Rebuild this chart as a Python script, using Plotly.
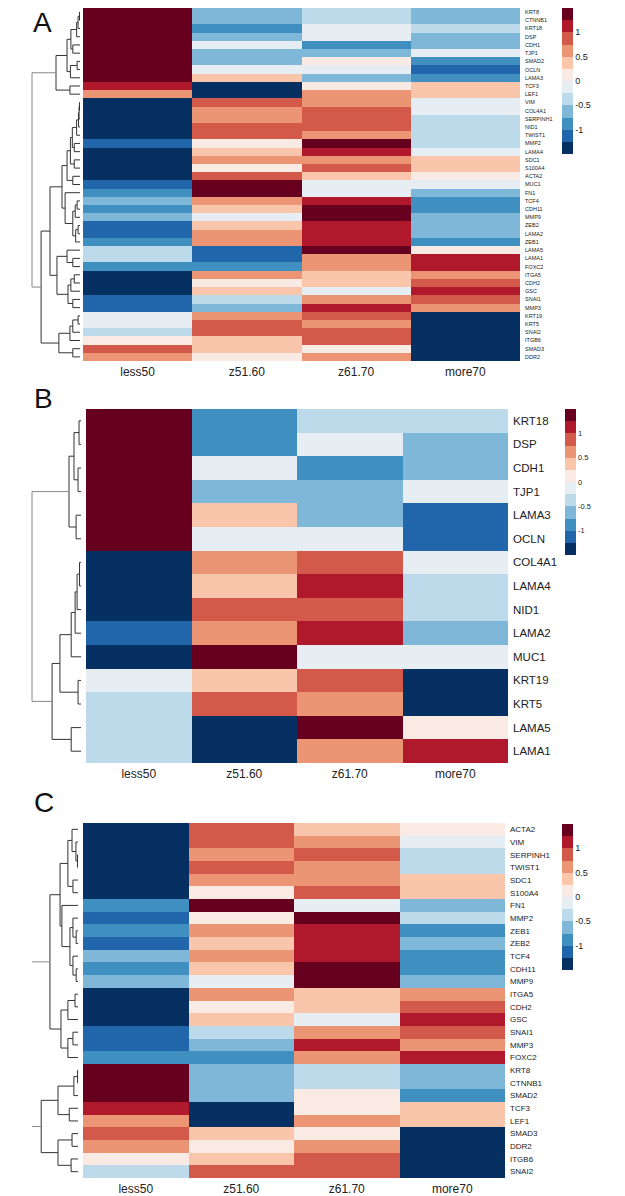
import plotly.graph_objects as go

cols = ['less50', 'z51.60', 'z61.70', 'more70']

# ---- panel A ----
genes_a = ['KRT8', 'CTNNB1', 'KRT18', 'DSP', 'CDH1', 'TJP1', 'SMAD2', 'OCLN', 'LAMA3', 'TCF3', 'LEF1',
           'VIM', 'COL4A1', 'SERPINH1', 'NID1', 'TWIST1', 'MMP2', 'LAMA4', 'SDC1', 'S100A4', 'ACTA2',
           'MUC1', 'FN1', 'TCF4', 'CDH11', 'MMP9', 'ZEB2', 'LAMA2', 'ZEB1', 'LAMA5', 'LAMA1', 'FOXC2',
           'ITGA5', 'CDH2', 'GSC', 'SNAI1', 'MMP3', 'KRT19', 'KRT5', 'SNAI2', 'ITGB6', 'SMAD3', 'DDR2']
a_less50 = [1.4, 1.4, 1.4, 1.4, 1.4, 1.4, 1.4, 1.4, 1.4, 1.1, 0.6,
            -1.4, -1.4, -1.4, -1.4, -1.4, -1.1, -1.4, -1.4, -1.4, -1.4,
            -1.1, -0.9, -0.6, -0.9, -0.6, -1.1, -1.1, -0.9, -0.4, -0.4, -0.9,
            -1.4, -1.4, -1.4, -1.1, -1.1, -0.1, -0.1, -0.4, 0.1, 0.9, 0.6]
a_z5160 = [-0.6, -0.6, -0.9, -0.6, -0.1, -0.6, -0.6, -0.1, 0.4, -1.4, -1.4,
           0.9, 0.6, 0.6, 0.9, 0.9, 0.1, 0.4, 0.6, 0.1, 0.9,
           1.4, 1.4, 0.6, 0.4, -0.1, 0.4, 0.6, 0.6, -1.1, -1.1, -0.9,
           0.6, 0.1, 0.4, -0.4, -0.6, 0.6, 0.9, 0.9, 0.4, 0.4, 0.1]
a_z6170 = [-0.4, -0.4, -0.1, -0.1, -0.9, -0.6, 0.1, -0.1, -0.6, 0.1, 0.6,
           0.6, 0.9, 0.9, 0.9, 0.6, 1.4, 1.1, 0.6, 0.9, 0.4,
           -0.1, -0.1, 1.1, 1.4, 1.4, 1.1, 1.1, 1.1, 1.4, 0.6, 0.6,
           0.4, 0.4, -0.1, 0.6, 1.1, 0.9, 0.6, 0.9, 0.9, 0.1, 0.6]
a_more70 = [-0.6, -0.6, -0.4, -0.6, -0.6, -0.1, -0.9, -1.1, -0.9, 0.4, 0.4,
            -0.1, -0.1, -0.4, -0.4, -0.4, -0.4, -0.1, 0.4, 0.4, 0.1,
            -0.1, -0.6, -0.9, -0.9, -0.6, -0.6, -0.6, -0.9, 0.1, 1.1, 1.1,
            0.6, 0.9, 1.1, 0.9, 0.6, -1.4, -1.4, -1.4, -1.4, -1.4, -1.4]

# row dendrogram A: [left, right, merge height]
a_epi = [[[[[['KRT8', 'CTNNB1', 0.1], 'KRT18', 0.4], 'DSP', 0.7], ['CDH1', 'TJP1', 1.5], 1.9],
          [['SMAD2', 'OCLN', 0.6], 'LAMA3', 2.0], 2.7],
         ['TCF3', 'LEF1', 2.1], 5.0]
a_g1 = [[[['VIM', 'COL4A1', 0.1], 'SERPINH1', 0.2], 'NID1', 0.3], 'TWIST1', 0.7]
a_up = [[[a_g1, ['MMP2', 'LAMA4', 1.2], 1.6], ['SDC1', 'S100A4', 1.2], 2.0], ['ACTA2', 'MUC1', 1.5], 2.7]
a_low = ['FN1', [[['TCF4', 'CDH11', 0.6], 'MMP9', 1.0], [['ZEB2', 'LAMA2', 0.4], 'ZEB1', 0.9], 1.5], 3.1]
a_lam = ['LAMA5', ['LAMA1', 'FOXC2', 1.5], 2.7]
a_itg = [[['ITGA5', 'CDH2', 1.2], 'GSC', 1.9], ['SNAI1', 'MMP3', 1.5], 2.5]
a_krt = [[[['KRT19', 'KRT5', 0.4], 'SNAI2', 1.5], 'ITGB6', 2.1], ['SMAD3', 'DDR2', 1.5], 4.4]
tree_a = [a_epi, [[[a_up, a_low, 3.75], [a_lam, a_itg, 4.8], 6.25], a_krt, 8.1], 10]

# ---- panel B ----
genes_b = ['KRT18', 'DSP', 'CDH1', 'TJP1', 'LAMA3', 'OCLN', 'COL4A1', 'LAMA4', 'NID1', 'LAMA2',
           'MUC1', 'KRT19', 'KRT5', 'LAMA5', 'LAMA1']
b_less50 = [1.4, 1.4, 1.4, 1.4, 1.4, 1.4, -1.4, -1.4, -1.4, -1.1, -1.4, -0.1, -0.4, -0.4, -0.4]
b_z5160 = [-0.9, -0.9, -0.1, -0.6, 0.4, -0.1, 0.6, 0.4, 0.9, 0.6, 1.4, 0.4, 0.9, -1.4, -1.4]
b_z6170 = [-0.4, -0.1, -0.9, -0.6, -0.6, -0.1, 0.9, 1.1, 0.9, 1.1, -0.1, 0.9, 0.6, 1.4, 0.6]
b_more70 = [-0.4, -0.6, -0.6, -0.1, -1.1, -1.1, -0.1, -0.4, -0.4, -0.6, -0.1, -1.4, -1.4, 0.1, 1.1]

b_top = [[['KRT18', 'DSP', 0.4], ['CDH1', 'TJP1', 0.6], 1.43], ['LAMA3', 'OCLN', 1.0], 2.45]
b_bot = [[[[[['COL4A1', 'LAMA4', 0.3], 'NID1', 0.8], 'LAMA2', 1.2], 'MUC1', 2.0],
          ['KRT19', 'KRT5', 0.6], 4.3], ['LAMA5', 'LAMA1', 2.0], 5.9]
tree_b = [b_top, b_bot, 10]

# ---- panel C ----
genes_c = ['ACTA2', 'VIM', 'SERPINH1', 'TWIST1', 'SDC1', 'S100A4', 'FN1', 'MMP2', 'ZEB1', 'ZEB2',
           'TCF4', 'CDH11', 'MMP9', 'ITGA5', 'CDH2', 'GSC', 'SNAI1', 'MMP3', 'FOXC2', 'KRT8',
           'CTNNB1', 'SMAD2', 'TCF3', 'LEF1', 'SMAD3', 'DDR2', 'ITGB6', 'SNAI2']
c_less50 = [-1.4, -1.4, -1.4, -1.4, -1.4, -1.4, -0.9, -1.1, -0.9, -1.1, -0.6, -0.9, -0.6, -1.4,
            -1.4, -1.4, -1.1, -1.1, -0.9, 1.4, 1.4, 1.4, 1.1, 0.6, 0.9, 0.6, 0.1, -0.4]
c_z5160 = [0.9, 0.9, 0.6, 0.9, 0.6, 0.1, 1.4, 0.1, 0.6, 0.4, 0.6, 0.4, -0.1, 0.6,
           0.1, 0.4, -0.4, -0.6, -0.9, -0.6, -0.6, -0.6, -1.4, -1.4, 0.4, 0.1, 0.4, 0.9]
c_z6170 = [0.4, 0.6, 0.9, 0.6, 0.6, 0.9, -0.1, 1.4, 1.1, 1.1, 1.1, 1.4, 1.4, 0.4,
           0.4, -0.1, 0.6, 1.1, 0.6, -0.4, -0.4, 0.1, 0.1, 0.6, 0.1, 0.6, 0.9, 0.9]
c_more70 = [0.1, -0.1, -0.4, -0.4, 0.4, 0.4, -0.6, -0.4, -0.9, -0.6, -0.9, -0.9, -0.6, 0.6,
            0.9, 1.1, 0.9, 0.6, 1.1, -0.6, -0.6, -0.9, 0.4, 0.4, -1.4, -1.4, -1.4, -1.4]

c_ecm = [['ACTA2', ['VIM', ['SERPINH1', 'TWIST1', 0.1], 0.45], 1.3], ['SDC1', 'S100A4', 1.1], 2.2]
c_tf = ['FN1', [['MMP2', ['ZEB1', 'ZEB2', 0.4], 1.1], ['TCF4', ['CDH11', 'MMP9', 0.4], 1.1], 1.75], 3.5]
c_itg = [[['ITGA5', 'CDH2', 0.65], 'GSC', 2.2], [['SNAI1', 'MMP3', 1.1], 'FOXC2', 2.2], 3.7]
c_epi = [[['KRT8', 'CTNNB1', 0.1], 'SMAD2', 0.9], ['TCF3', 'LEF1', 1.9], 4.35]
c_mes = [['SMAD3', 'DDR2', 1.3], ['ITGB6', 'SNAI2', 1.5], 4.35]
tree_c = [[[c_ecm, c_tf, 3.9], c_itg, 6.1], [c_epi, c_mes, 8.0], 10]

# 12-step RdBu palette over [-1.5, 1.5]
palette = ['#053061', '#2165ab', '#3f8fc1', '#7eb7d8', '#bcdaea', '#e6eef3',
           '#f9eae3', '#f9c6ac', '#ec9575', '#d35a4a', '#b0182b', '#67001f']
colorscale = []
for i, c in enumerate(palette):
    colorscale += [[i / len(palette), c], [(i + 1) / len(palette), c]]

# page body has an 8px margin, so the figure is drawn 8px smaller and shifted
OFF = 8
W, H = 625 - OFF, 1196 - OFF
FONT = 'Liberation Sans'


def px(v):
    return max(v - OFF, 0)


panels = [
    dict(letter='A', genes=genes_a, vals=[a_less50, a_z5160, a_z6170, a_more70], tree=tree_a,
         root_line=True, hx=(83, 520), hy=(8, 361), dx=(32, 80), cbx=562, cby=8,
         gfont=5.5, cbfont=9, lxy=(42, 22)),
    dict(letter='B', genes=genes_b, vals=[b_less50, b_z5160, b_z6170, b_more70], tree=tree_b,
         root_line=True, hx=(86, 508), hy=(409, 763), dx=(32, 81), cbx=565, cby=409,
         gfont=11.5, cbfont=7.5, lxy=(43, 398)),
    dict(letter='C', genes=genes_c, vals=[c_less50, c_z5160, c_z6170, c_more70], tree=tree_c,
         root_line=False, hx=(83, 505), hy=(823, 1178), dx=(32, 78), cbx=562, cby=824,
         gfont=8, cbfont=9, lxy=(44, 802)),
]


def walk(node, pos, segs):
    if isinstance(node, str):
        return pos[node], 0.0
    left, right, h = node
    yl, hl = walk(left, pos, segs)
    yr, hr = walk(right, pos, segs)
    segs.append([(hl, yl), (h, yl), (h, yr), (hr, yr)])
    return (yl + yr) / 2, h


def to_xy(segs):
    xs, ys = [], []
    for s in segs:
        xs += [p[0] for p in s] + [None]
        ys += [p[1] for p in s] + [None]
    return xs, ys


fig = go.Figure()
layout = {}
for k, p in enumerate(panels):
    n = len(p['genes'])
    hx, hy, dx = p['hx'], p['hy'], p['dx']
    ydom = [1 - px(hy[1]) / H, 1 - px(hy[0]) / H]
    sfx = '' if k == 0 else str(k + 1)
    dsfx = str(k + 4)

    z = [list(r) for r in zip(*p['vals'])]
    fig.add_trace(go.Heatmap(
        z=z, x=cols, y=list(range(n)), xaxis='x' + sfx, yaxis='y' + sfx,
        colorscale=colorscale, zmin=-1.5, zmax=1.5, xgap=0, ygap=0,
        colorbar=dict(x=px(p['cbx']) / W, xanchor='left', xpad=0, ypad=0,
                      y=1 - px(p['cby']) / H, yanchor='top', len=146, lenmode='pixels',
                      thickness=11, outlinewidth=0, ticks='',
                      tickvals=[-1, -0.5, 0, 0.5, 1], ticktext=['-1', '-0.5', '0', '0.5', '1'],
                      tickfont=dict(size=p['cbfont'], family=FONT, color='#222'))
    ))

    # dendrogram
    pos = {g: i for i, g in enumerate(p['genes'])}
    segs = []
    walk(p['tree'], pos, segs)
    root = segs.pop()
    if p['root_line']:
        root_segs = [root]
    else:
        root_segs = [root[:2], root[2:]]
    xs, ys = to_xy(segs)
    fig.add_trace(go.Scatter(x=xs, y=ys, mode='lines', xaxis='x' + dsfx, yaxis='y' + sfx,
                             line=dict(color='#333', width=1), hoverinfo='skip', showlegend=False))
    xs, ys = to_xy(root_segs)
    fig.add_trace(go.Scatter(x=xs, y=ys, mode='lines', xaxis='x' + dsfx, yaxis='y' + sfx,
                             line=dict(color='#888', width=1), hoverinfo='skip', showlegend=False))

    root_h = p['tree'][2]
    ppu = (dx[1] - dx[0]) / root_h
    layout['xaxis' + sfx] = dict(
        domain=[px(hx[0]) / W, px(hx[1]) / W], anchor='y' + sfx, type='category',
        showgrid=False, zeroline=False, showline=False, ticks='', ticklabelstandoff=2,
        tickfont=dict(size=12, family=FONT, color='#222'))
    layout['yaxis' + sfx] = dict(
        domain=ydom, anchor='x' + sfx, side='right', range=[n - 0.5, -0.5],
        tickvals=list(range(n)), ticktext=p['genes'], showgrid=False, zeroline=False,
        showline=False, ticks='', ticklabelstandoff=4,
        tickfont=dict(size=p['gfont'], family=FONT, color='#222'))
    layout['xaxis' + dsfx] = dict(
        domain=[px(dx[0] - 2) / W, px(dx[1] + 1) / W], anchor='y' + sfx, visible=False,
        range=[root_h + 2 / ppu, -1 / ppu], showgrid=False, zeroline=False)

annotations = [dict(text=p['letter'], x=px(p['lxy'][0]) / W, y=1 - px(p['lxy'][1]) / H,
                    xref='paper', yref='paper', xanchor='center', yanchor='middle',
                    showarrow=False, font=dict(size=28, family=FONT, color='#111'))
               for p in panels]

fig.update_layout(
    width=W, height=H, margin=dict(l=0, r=0, t=0, b=0),
    paper_bgcolor='white', plot_bgcolor='white', showlegend=False,
    annotations=annotations, **layout
)

fig.write_html("out.html")
